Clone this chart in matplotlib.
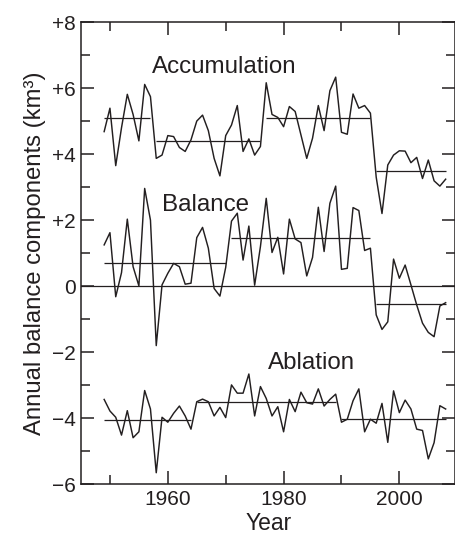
import numpy as np
import matplotlib
matplotlib.use('Agg')
import matplotlib.pyplot as plt
from matplotlib.ticker import MultipleLocator, FuncFormatter

plt.rcParams['font.family'] = ['Liberation Sans', 'DejaVu Sans']

years = np.arange(1949, 2009)

accumulation = [4.68, 5.39, 3.65, 4.80, 5.81, 5.20, 4.40, 6.11, 5.74, 3.87,
                3.97, 4.56, 4.53, 4.20, 4.08, 4.43, 5.00, 5.18, 4.71, 3.87,
                3.34, 4.56, 4.88, 5.47, 4.08, 4.46, 3.97, 4.23, 6.16, 5.20,
                5.11, 4.83, 5.44, 5.29, 4.58, 3.87, 4.48, 5.47, 4.71, 5.92,
                6.33, 4.66, 4.60, 5.82, 5.39, 5.47, 5.24, 3.30, 2.20, 3.67,
                3.97, 4.10, 4.09, 3.74, 3.90, 3.26, 3.82, 3.19, 3.03, 3.24]
balance = [1.25, 1.62, -0.32, 0.41, 2.03, 0.59, 0.01, 2.96, 2.00, -1.80,
           0.04, 0.39, 0.69, 0.59, 0.06, 0.09, 1.47, 1.78, 1.15, -0.07,
           -0.30, 0.57, 1.97, 2.21, 0.79, 1.82, 0.03, 1.20, 2.66, 1.02,
           1.48, 0.37, 2.03, 1.43, 1.32, 0.31, 0.87, 2.39, 1.05, 2.51,
           3.03, 0.51, 0.54, 2.38, 2.29, 1.08, 1.15, -0.87, -1.31, -1.08,
           0.82, 0.24, 0.64, 0.04, -0.57, -1.12, -1.40, -1.53, -0.60, -0.50]
ablation = [-3.43, -3.78, -3.97, -4.51, -3.77, -4.59, -4.41, -3.16, -3.72, -5.65,
            -3.97, -4.12, -3.85, -3.63, -3.93, -4.33, -3.50, -3.42, -3.50, -3.93,
            -3.67, -3.98, -2.99, -3.24, -3.24, -2.66, -3.93, -3.04, -3.40, -3.93,
            -3.65, -4.41, -3.43, -3.80, -3.21, -3.53, -3.57, -3.11, -3.63, -3.43,
            -3.27, -4.12, -4.03, -3.47, -3.11, -4.41, -4.03, -4.15, -3.55, -4.73,
            -3.17, -3.83, -3.45, -3.72, -4.33, -4.37, -5.23, -4.74, -3.62, -3.72]

# period means (start year, end year, value)
acc_mean_start = [1949, 1958, 1977, 1996]
acc_mean_end = [1957, 1976, 1995, 2008]
acc_mean_val = [5.09, 4.41, 5.09, 3.50]
bal_mean_start = [1949, 1971, 1996]
bal_mean_end = [1970, 1995, 2008]
bal_mean_val = [0.70, 1.47, -0.55]
abl_mean_start = [1949, 1965, 1990]
abl_mean_end = [1964, 1989, 2008]
abl_mean_val = [-4.04, -3.51, -4.02]

ink = '#231f20'

fig = plt.figure(figsize=(4.56, 5.4), dpi=100)
ax = fig.add_axes([81/456, 1 - 484.3/540, 374.5/456, 462.3/540])

ax.axhline(0, color=ink, lw=0.9)
for series in (accumulation, balance, ablation):
    ax.plot(years, series, color=ink, lw=1.05)
ax.hlines(acc_mean_val, acc_mean_start, acc_mean_end, color=ink, lw=0.9)
ax.hlines(bal_mean_val, bal_mean_start, bal_mean_end, color=ink, lw=0.9)
ax.hlines(abl_mean_val, abl_mean_start, abl_mean_end, color=ink, lw=0.9)

ax.text(1969.76, 6.45, 'Accumulation', ha='center', va='baseline', fontsize=17.4, color=ink)
ax.text(1966.56, 2.29, 'Balance', ha='center', va='baseline', fontsize=17.4, color=ink)
ax.text(1984.78, -2.52, 'Ablation', ha='center', va='baseline', fontsize=17.4, color=ink)

ax.set_xlim(1945, 2009.7)
ax.set_ylim(-6, 8)
ax.xaxis.set_major_locator(MultipleLocator(20))
ax.xaxis.set_minor_locator(MultipleLocator(10))
ax.yaxis.set_major_locator(MultipleLocator(2))
ax.yaxis.set_minor_locator(MultipleLocator(1))
ax.yaxis.set_major_formatter(FuncFormatter(
    lambda v, p: '0' if v == 0 else ('+%d' % v if v > 0 else '\u2212%d' % -v)))
ax.tick_params(which='both', direction='in', top=True, right=True,
               labelsize=15, colors=ink, width=1.1, pad=4)
ax.tick_params(which='major', length=9.5)
ax.tick_params(which='minor', length=6.3)
for s in ax.spines.values():
    s.set_linewidth(1.1)
    s.set_color(ink)

ax.set_xlabel('Year', fontsize=16.5, color=ink, labelpad=2)
ax.set_ylabel('Annual balance components (km\u00b3)', fontsize=17.2, color=ink, labelpad=4)

fig.savefig('out.png', dpi=100)
